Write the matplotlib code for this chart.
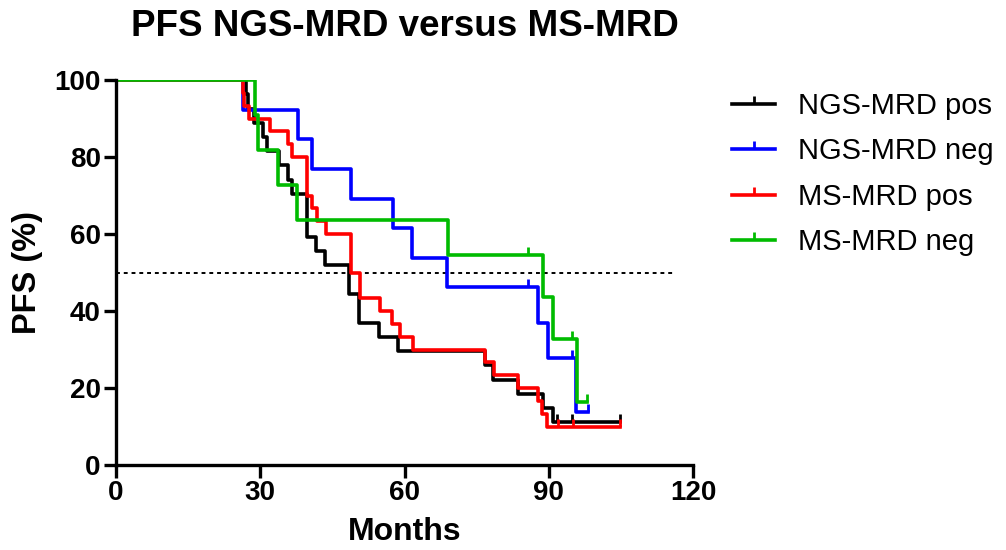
"""
Curvas de Kaplan-Meier: PFS NGS-MRD versus MS-MRD.
"""
import numpy as np
import matplotlib
matplotlib.use("Agg")
import matplotlib.pyplot as plt
from matplotlib.path import Path as MPath

plt.rcParams["font.family"] = ["Liberation Sans", "DejaVu Sans"]

# ==========================
# DATOS
# ==========================

# NGS-MRD pos
ngs_pos_t = [0, 27.0, 27.5, 28.6, 30.6, 31.3, 33.8, 35.8, 36.5, 39.8, 41.6, 43.5,
             48.4, 50.5, 54.6, 58.7, 76.7, 78.5, 83.7, 88.9, 90.8, 104.8]
ngs_pos_s = [100, 96.3, 92.6, 88.9, 85.2, 81.5, 77.8, 74.1, 70.4, 59.3, 55.6, 51.9,
             44.4, 37.0, 33.3, 29.6, 25.9, 22.2, 18.5, 14.8, 11.1, 11.1]
ngs_pos_cens = [91.8, 94.8, 104.8]

# NGS-MRD neg
ngs_neg_t = [0, 26.5, 37.9, 40.8, 48.9, 57.6, 61.6, 68.8, 87.7, 89.8, 95.6, 98.1]
ngs_neg_s = [100, 92.3, 84.6, 76.9, 69.2, 61.5, 53.8, 46.2, 36.9, 27.7, 13.8, 13.8]
ngs_neg_cens = [85.7, 94.8, 98.1]

# MS-MRD pos
ms_pos_t = [0, 26.5, 26.7, 27.7, 32.0, 35.7, 36.6, 39.7, 40.7, 41.7, 43.7, 48.9,
            50.7, 54.9, 57.4, 59.0, 61.7, 76.7, 78.7, 83.7, 87.8, 88.6, 89.6, 104.8]
ms_pos_s = [100, 96.7, 93.3, 90.0, 86.7, 83.3, 80.0, 70.0, 66.7, 63.3, 60.0, 50.0,
            43.3, 40.0, 36.7, 33.3, 30.0, 26.7, 23.3, 20.0, 16.7, 13.3, 10.0, 10.0]
ms_pos_cens = [92.0, 95.0, 104.8]

# MS-MRD neg
ms_neg_t = [0, 28.9, 29.6, 33.7, 37.7, 69.0, 88.8, 90.9, 95.8, 97.9]
ms_neg_s = [100, 90.9, 81.8, 72.7, 63.6, 54.5, 43.6, 32.7, 16.4, 16.4]
ms_neg_cens = [85.7, 94.8, 97.9]

labels = ["NGS-MRD pos", "NGS-MRD neg", "MS-MRD pos", "MS-MRD neg"]
colors = ["#000000", "#0000ff", "#ff0000", "#00bb00"]

x_ticks = [0, 30, 60, 90, 120]
y_ticks = [0, 20, 40, 60, 80, 100]

# marcador de censura: trazo vertical hacia arriba
CENS_MARKER = MPath([[0, 0], [0, 1]])


def survival_at(t, s, x):
    """Valor de la curva escalonada en el tiempo x."""
    idx = np.searchsorted(t, x, side="right") - 1
    return np.asarray(s)[idx]


def main() -> None:
    fig = plt.figure(figsize=(10.06, 5.5), dpi=100)
    ax = fig.add_axes([0.1153, 0.1545, 0.5736, 0.7000])

    series = [
        (ngs_pos_t, ngs_pos_s, ngs_pos_cens),
        (ngs_neg_t, ngs_neg_s, ngs_neg_cens),
        (ms_pos_t, ms_pos_s, ms_pos_cens),
        (ms_neg_t, ms_neg_s, ms_neg_cens),
    ]

    ax.hlines(50, 0, 116, colors="black", linestyles=(0, (2, 2)), linewidth=1.4, zorder=1)

    for (t, s, cens), lab, col in zip(series, labels, colors):
        ax.step(t, s, where="post", color=col, linewidth=2.6, zorder=2)
        ax.plot(cens, survival_at(t, s, cens), linestyle="none", marker=CENS_MARKER,
                markersize=11, markeredgewidth=2.0, color=col, zorder=3)
        # entrada de leyenda
        ax.plot([], [], color=col, linewidth=2.6, marker=CENS_MARKER,
                markersize=11, markeredgewidth=2.0, label=lab)

    ax.set_xlim(0, 120)
    ax.set_ylim(0, 100)
    ax.set_xticks(x_ticks)
    ax.set_yticks(y_ticks)
    ax.spines["top"].set_visible(False)
    ax.spines["right"].set_visible(False)
    for sp in ["left", "bottom"]:
        ax.spines[sp].set_linewidth(2.4)
    ax.tick_params(width=2.4, length=9, labelsize=20, pad=2)
    for lbl in ax.get_xticklabels() + ax.get_yticklabels():
        lbl.set_fontweight("bold")

    ax.set_xlabel("Months", fontsize=23, fontweight="bold", labelpad=8)
    ax.set_ylabel("PFS (%)", fontsize=23.5, fontweight="bold", labelpad=8)
    fig.text(0.4025, 1 - 27 / 550, "PFS NGS-MRD versus MS-MRD", fontsize=26.5,
             fontweight="bold", ha="center", va="center")

    ax.legend(loc="upper left", bbox_to_anchor=(0.728, 0.833), bbox_transform=fig.transFigure,
              frameon=False, fontsize=21, handlelength=1.45, handletextpad=0.8,
              labelspacing=0.6, numpoints=1, borderaxespad=0, borderpad=0)

    fig.savefig("out.png", dpi=100)
    plt.close(fig)


if __name__ == "__main__":
    main()
